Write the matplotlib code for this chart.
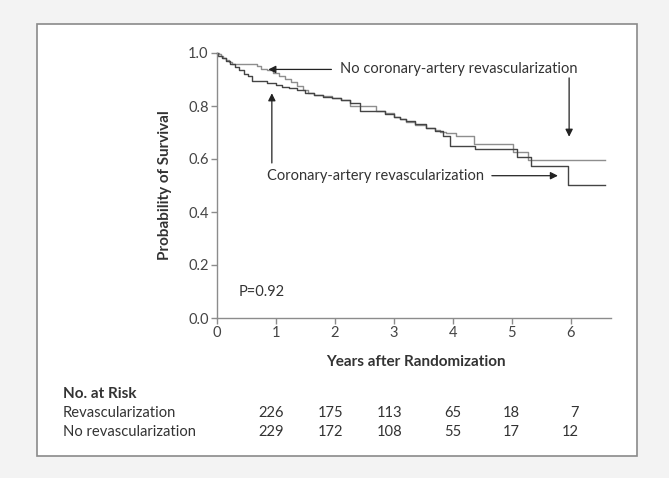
import matplotlib.pyplot as plt
from matplotlib.patches import Rectangle

plt.rcParams['font.family'] = ['Lato', 'DejaVu Sans']

# step points (years, survival)
no_revasc_t = [0, 0.03, 0.06, 0.10, 0.15, 0.20, 0.25, 0.68, 0.74, 0.85, 0.95, 1.05,
               1.15, 1.25, 1.35, 1.45, 1.55, 1.65, 1.80, 1.95, 2.10, 2.25, 2.69,
               2.85, 3.00, 3.10, 3.21, 3.35, 3.55, 3.70, 3.78, 3.89, 4.06, 4.35,
               5.02, 5.28, 6.58]
no_revasc_s = [1.0, 0.995, 0.99, 0.982, 0.973, 0.965, 0.96, 0.95, 0.94, 0.935, 0.925,
               0.915, 0.903, 0.89, 0.877, 0.862, 0.85, 0.843, 0.836, 0.83, 0.823,
               0.80, 0.782, 0.772, 0.76, 0.75, 0.741, 0.73, 0.716, 0.708, 0.703,
               0.697, 0.685, 0.655, 0.628, 0.596, 0.596]

revasc_t = [0, 0.02, 0.08, 0.15, 0.22, 0.30, 0.38, 0.45, 0.52, 0.60, 0.85, 1.00,
            1.10, 1.22, 1.36, 1.50, 1.64, 1.80, 1.95, 2.10, 2.25, 2.42, 2.85, 3.00,
            3.10, 3.21, 3.35, 3.55, 3.70, 3.83, 3.95, 4.37, 5.08, 5.33, 5.95, 6.58]
revasc_s = [1.0, 0.99, 0.98, 0.97, 0.96, 0.948, 0.935, 0.922, 0.912, 0.893, 0.887,
            0.88, 0.873, 0.867, 0.86, 0.848, 0.843, 0.835, 0.829, 0.822, 0.812,
            0.782, 0.77, 0.76, 0.752, 0.742, 0.732, 0.717, 0.707, 0.685, 0.649,
            0.638, 0.609, 0.575, 0.502, 0.502]

risk_years = [1, 2, 3, 4, 5, 6]
risk_revasc = [226, 175, 113, 65, 18, 7]
risk_no_revasc = [229, 172, 108, 55, 17, 12]

txt = '#333333'
axc = '#8c8c8c'

fig = plt.figure(figsize=(6.69, 4.78), dpi=100)
fig.patch.set_facecolor('#f3f3f3')
fig.patches.append(Rectangle((37 / 669, 1 - 456 / 478), 600 / 669, 432 / 478,
                             transform=fig.transFigure, facecolor='white',
                             edgecolor='#8a8a8a', linewidth=1.2, zorder=-5))

ax = fig.add_axes([217 / 669, 160 / 478, 394 / 669, 265 / 478])
ax.set_zorder(2)
ax.set_facecolor('none')
ax.step(no_revasc_t, no_revasc_s, where='post', color='#8e8e8e', lw=1.0, clip_on=False)
ax.step(revasc_t, revasc_s, where='post', color='#444444', lw=1.0, clip_on=False)

ax.set_xlim(0, 6.68)
ax.set_ylim(0, 1.0)
ax.set_xticks(range(7))
ax.set_yticks([0, 0.2, 0.4, 0.6, 0.8, 1.0])
ax.set_yticklabels(['0.0', '0.2', '0.4', '0.6', '0.8', '1.0'])
for s in ['top', 'right']:
    ax.spines[s].set_visible(False)
for s in ['left', 'bottom']:
    ax.spines[s].set_color(axc)
    ax.spines[s].set_linewidth(1.0)
ax.tick_params(colors=axc, labelcolor='#444444', labelsize=10.5, length=4, width=1, pad=2)

arrow = dict(arrowstyle='-|>', color='#222222', lw=0.9, mutation_scale=11,
             shrinkA=0, shrinkB=0)
ax.text(2.08, 0.938, 'No coronary-artery revascularization', fontsize=10.5,
        color=txt, va='center', ha='left')
ax.annotate('', xy=(0.87, 0.938), xytext=(1.94, 0.938), arrowprops=arrow)
ax.annotate('', xy=(5.97, 0.684), xytext=(5.97, 0.906), arrowprops=arrow)
ax.text(0.85, 0.537, 'Coronary-artery revascularization', fontsize=10.5,
        color=txt, va='center', ha='left')
ax.annotate('', xy=(5.78, 0.537), xytext=(4.66, 0.537), arrowprops=arrow)
ax.annotate('', xy=(0.93, 0.848), xytext=(0.93, 0.585), arrowprops=arrow)
ax.text(0.36, 0.099, 'P=0.92', fontsize=10.5, color=txt, va='center', ha='left')

fig.text(165 / 669, 1 - 185 / 478, 'Probability of Survival', rotation=90,
         fontsize=11, fontweight='bold', color=txt, ha='center', va='center')
fig.text(416 / 669, 1 - 362 / 478, 'Years after Randomization',
         fontsize=11, fontweight='bold', color=txt, ha='center', va='center')

# number at risk table
fig.text(63 / 669, 1 - 394 / 478, 'No. at Risk', fontsize=11, fontweight='bold',
         color=txt, va='center')
fig.text(63 / 669, 1 - 413 / 478, 'Revascularization', fontsize=10.6,
         color=txt, va='center')
fig.text(63 / 669, 1 - 432 / 478, 'No revascularization', fontsize=10.6,
         color=txt, va='center')
tr = ax.get_xaxis_transform()
for yr, a, b in zip(risk_years, risk_revasc, risk_no_revasc):
    ax.text(yr + 0.14, -(413 - 318) / 265, str(a), transform=tr, fontsize=10.6,
            color=txt, ha='right', va='center', clip_on=False)
    ax.text(yr + 0.14, -(432 - 318) / 265, str(b), transform=tr, fontsize=10.6,
            color=txt, ha='right', va='center', clip_on=False)

fig.savefig('out.png', dpi=100, facecolor=fig.get_facecolor())
